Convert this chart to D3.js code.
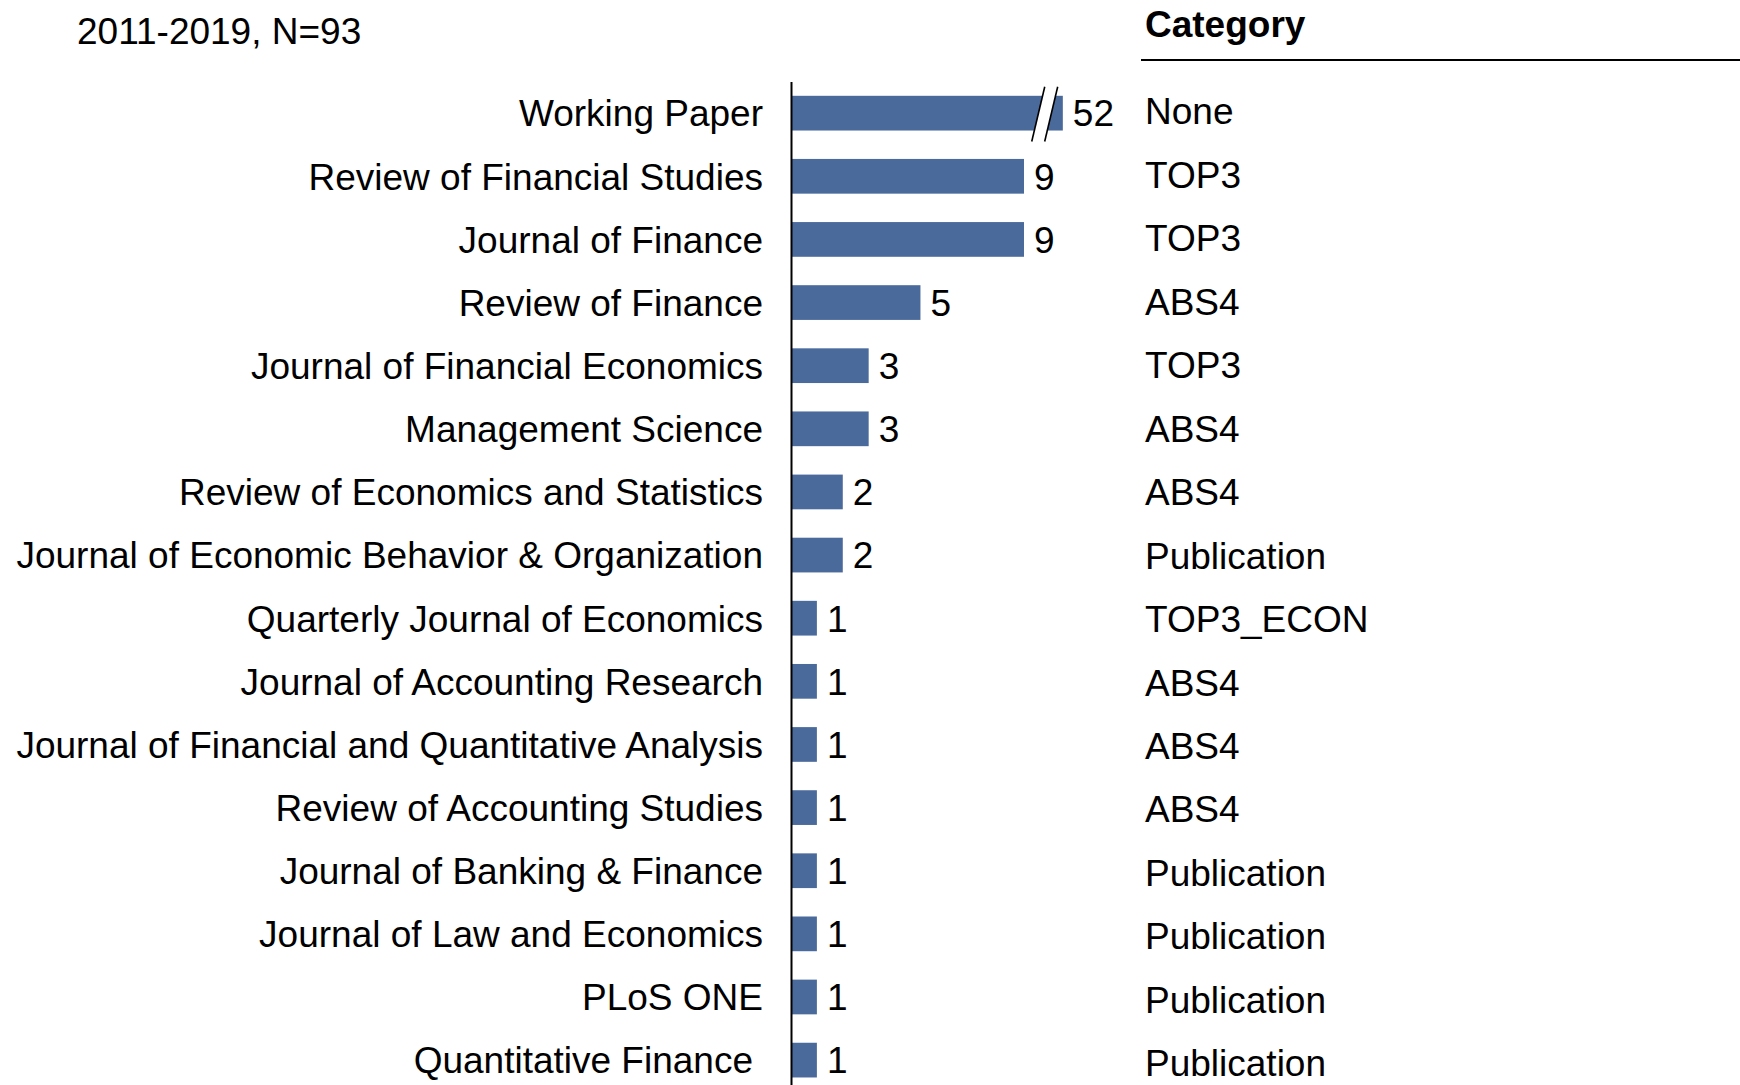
<!DOCTYPE html>
<html>
<head>
<meta charset="utf-8">
<script src="https://cdn.jsdelivr.net/npm/d3@7"></script>
<style>
  body { margin: 0; background: #fff; }
  text { font-family: "Liberation Sans", Arial, sans-serif; fill: #000; }
</style>
</head>
<body>
<script>
// journals where the papers ended up, 2011-2019
const journals = [
    "Working Paper",
    "Review of Financial Studies",
    "Journal of Finance",
    "Review of Finance",
    "Journal of Financial Economics",
    "Management Science",
    "Review of Economics and Statistics",
    "Journal of Economic Behavior & Organization",
    "Quarterly Journal of Economics",
    "Journal of Accounting Research",
    "Journal of Financial and Quantitative Analysis",
    "Review of Accounting Studies",
    "Journal of Banking & Finance",
    "Journal of Law and Economics",
    "PLoS ONE",
    "Quantitative Finance"
];
const counts = [52, 9, 9, 5, 3, 3, 2, 2, 1, 1, 1, 1, 1, 1, 1, 1];
const categories = [
    "None", "TOP3", "TOP3", "ABS4", "TOP3", "ABS4", "ABS4", "Publication",
    "TOP3_ECON", "ABS4", "ABS4", "ABS4", "Publication", "Publication",
    "Publication", "Publication"
];
const subtitle = "2011-2019, N=93";
const categoryHeader = "Category";

// axis break: anything above this is drawn cut
const breakAt = 10.5;
const breakFrom = 9.55, breakTo = 10.05;

function main() {
    let width = 1740, height = 1085;
    let axisX = 791;
    let fontSize = 37;

    let svg = d3.select("body").append("svg")
        .attr("width", width)
        .attr("height", height);

    let rows = journals.map(function (j, i) {
        return {name: j, value: counts[i], cat: categories[i]};
    });

    // scales
    let x = d3.scaleLinear().domain([0, 9]).range([0, 233]);
    let y = d3.scaleBand()
        .domain(journals)
        .range([81.6, 81.6 + 63.13 * journals.length])
        .paddingInner(0.45)
        .paddingOuter(0.225);
    // the category column (a pasted table) runs on a slightly wider pitch
    let yCat = d3.scalePoint()
        .domain(journals)
        .range([111, 1063]);

    let g = svg.append("g").attr("transform", "translate(" + axisX + ",0)");

    // bars
    g.selectAll("rect.bar")
        .data(rows)
        .enter().append("rect")
        .attr("class", "bar")
        .attr("x", 0)
        .attr("y", function (d) { return y(d.name); })
        .attr("width", function (d) { return x(Math.min(d.value, breakAt)); })
        .attr("height", y.bandwidth())
        .attr("fill", "#4b6a9c");

    // break marks on the long bar
    let broken = rows.filter(function (d) { return d.value > breakAt; });
    let slant = 13;
    broken.forEach(function (d) {
        let top = y(d.name) - 9, bot = y(d.name) + y.bandwidth() + 11;
        let x1 = x(breakFrom), x2 = x(breakTo);
        g.append("polygon")
            .attr("points", [
                [x1 + slant / 2, top], [x2 + slant / 2, top],
                [x2 - slant / 2, bot], [x1 - slant / 2, bot]
            ].map(function (p) { return p.join(","); }).join(" "))
            .attr("fill", "#fff");
        [x1, x2].forEach(function (xx) {
            g.append("line")
                .attr("x1", xx + slant / 2).attr("y1", top)
                .attr("x2", xx - slant / 2).attr("y2", bot)
                .attr("stroke", "#000")
                .attr("stroke-width", 1.6);
        });
    });

    // value labels
    g.selectAll("text.val")
        .data(rows)
        .enter().append("text")
        .attr("class", "val")
        .attr("x", function (d) { return x(Math.min(d.value, breakAt)) + 10; })
        .attr("y", function (d) { return y(d.name) + y.bandwidth() / 2; })
        .attr("dy", "0.36em")
        .style("font-size", fontSize + "px")
        .text(function (d) { return d.value; });

    // y axis: just the line and the journal names
    let yAxis = d3.axisLeft(y).tickSize(0).tickPadding(28);
    let ax = g.append("g").call(yAxis);
    ax.select(".domain").attr("stroke", "#000").attr("stroke-width", 2);
    ax.selectAll(".tick text")
        .style("font-size", fontSize + "px")
        .style("font-family", "'Liberation Sans', Arial, sans-serif")
        .attr("fill", "#000")
        .attr("dy", "0.36em")
        .attr("x", function (d) { return d === "Quantitative Finance" ? -38 : -28; });

    // category column
    let catX = 1145;
    svg.append("text")
        .attr("x", catX)
        .attr("y", 37)
        .style("font-size", fontSize + "px")
        .style("font-weight", "bold")
        .text(categoryHeader);
    svg.append("line")
        .attr("x1", 1141).attr("x2", width)
        .attr("y1", 60).attr("y2", 60)
        .attr("stroke", "#000")
        .attr("stroke-width", 2);

    svg.selectAll("text.cat")
        .data(rows)
        .enter().append("text")
        .attr("class", "cat")
        .attr("x", catX)
        .attr("y", function (d) { return yCat(d.name); })
        .attr("dy", "0.36em")
        .style("font-size", fontSize + "px")
        .text(function (d) { return d.cat; });

    // subtitle
    svg.append("text")
        .attr("x", 77)
        .attr("y", 44)
        .style("font-size", fontSize + "px")
        .text(subtitle);
}

main();
</script>
</body>
</html>
